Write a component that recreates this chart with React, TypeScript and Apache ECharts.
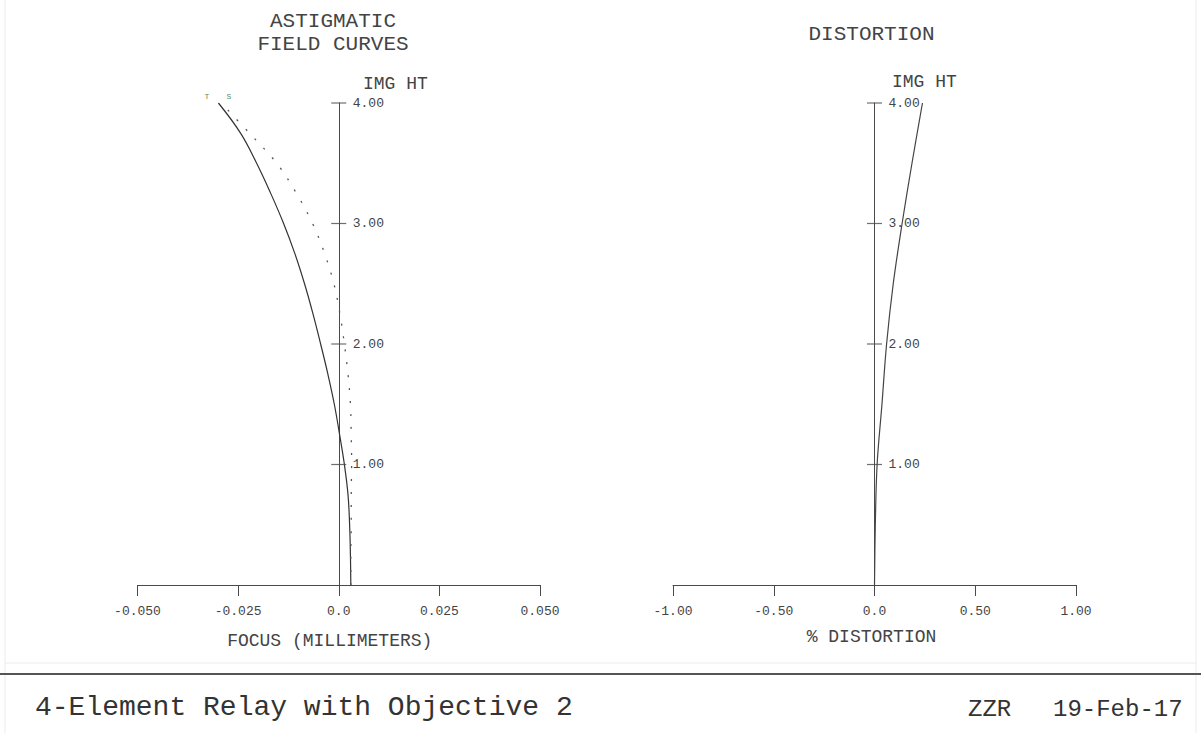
import React, { useEffect, useRef } from "react";
import * as echarts from "echarts";

// ---- data ----
const fieldHeights = [0, 0.25, 0.5, 0.75, 1, 1.25, 1.5, 1.75, 2, 2.25, 2.5, 2.75, 3, 3.25, 3.5, 3.75, 4];
const tangentialFocus = [0.003, 0.0029, 0.0027, 0.0023, 0.0014, 0.0002, -0.0011, -0.0027, -0.0045, -0.0064, -0.0085, -0.0109, -0.0137, -0.0169, -0.0204, -0.0244, -0.0299];
const sagittalFocus = [0.003, 0.003, 0.0031, 0.0031, 0.0032, 0.0031, 0.0029, 0.0023, 0.0014, 0.0003, -0.0012, -0.0035, -0.0065, -0.0105, -0.0154, -0.0222, -0.0292];
const distortionHeights = [0, 0.5, 1, 1.5, 2, 2.5, 3, 3.5, 4];
const distortionPct = [0, 0.004, 0.013, 0.037, 0.06, 0.093, 0.137, 0.186, 0.238];
const heightTicks = [1, 2, 3, 4];
const focusTickLabels = ["-0.050", "-0.025", "0.0", "0.025", "0.050"];
const distortionTickLabels = ["-1.00", "-0.50", "0.0", "0.50", "1.00"];
const heightTickLabels = ["", "1.00", "2.00", "3.00", "4.00"];

const FONT = "Liberation Mono";
const AX = "#4a4a4a";
const TXT = "#444";

const G_TOP = 103;
const G_H = 482;
const G1_LEFT = 137.5;
const G1_W = 402.5;
const G2_LEFT = 673;
const G2_W = 403;

export default function App() {
  const ref = useRef<HTMLDivElement>(null);
  useEffect(() => {
    if (!ref.current) return;
    const chart = echarts.init(ref.current, undefined, { renderer: "svg" });

    const xAxisBase = (labels: string[], min: number, max: number, interval: number, name: string, gap: number, idx: number, shift: number) => ({
      type: "value",
      gridIndex: idx,
      min,
      max,
      interval,
      axisLine: { onZero: false, lineStyle: { color: AX, width: 1 } },
      axisTick: { show: true, length: 11, lineStyle: { color: AX, width: 1 } },
      splitLine: { show: false },
      axisLabel: {
        formatter: (_v: number, i: number) => labels[i] ?? "",
        margin: 20,
        fontFamily: FONT,
        fontSize: 13,
        color: TXT,
      },
      name,
      nameLocation: "middle",
      nameGap: gap,
      nameTextStyle: { fontFamily: FONT, fontSize: 18, color: TXT, padding: [0, shift, 0, 0] },
    });

    // hidden value axes of the plotting grids
    const yHidden = (idx: number) => ({ type: "value", gridIndex: idx, min: 0, max: 4, interval: 1, show: false });

    // visible height axes, placed on the zero line of each plot (a 1px helper grid)
    const yVisible = (idx: number) => ({
      type: "value",
      gridIndex: idx,
      position: "right",
      min: 0,
      max: 4,
      interval: 1,
      axisLine: { show: true, onZero: false, lineStyle: { color: AX, width: 1 } },
      axisTick: { show: false },
      splitLine: { show: false },
      axisLabel: {
        margin: 14,
        formatter: (_v: number, i: number) => heightTickLabels[i] ?? "",
        fontFamily: FONT,
        fontSize: 13,
        color: TXT,
      },
    });

    const xHelper = (idx: number) => ({ type: "value", gridIndex: idx, min: 0, max: 1, show: false });

    const crossTicks = (idx: number) => ({
      type: "scatter",
      xAxisIndex: idx,
      yAxisIndex: idx,
      data: heightTicks.map((h) => [0, h]),
      symbol: "rect",
      symbolSize: [15, 1.2],
      itemStyle: { color: AX },
      silent: true,
      z: 3,
    });

    const option: any = {
      animation: false,
      backgroundColor: "#ffffff",
      grid: [
        { left: G1_LEFT, top: G_TOP, width: G1_W, height: G_H },
        { left: G2_LEFT, top: G_TOP, width: G2_W, height: G_H },
        { left: G1_LEFT + G1_W / 2 - 1, top: G_TOP, width: 1, height: G_H },
        { left: G2_LEFT + G2_W / 2 - 1, top: G_TOP, width: 1, height: G_H },
      ],
      xAxis: [
        xAxisBase(focusTickLabels, -0.05, 0.05, 0.025, "FOCUS (MILLIMETERS)", 47, 0, 18),
        xAxisBase(distortionTickLabels, -1, 1, 0.5, "% DISTORTION", 43, 1, 6),
        xHelper(2),
        xHelper(3),
      ],
      yAxis: [yHidden(0), yHidden(1), yVisible(2), yVisible(3)],
      series: [
        crossTicks(0),
        crossTicks(1),
        {
          name: "T",
          type: "line",
          xAxisIndex: 0,
          yAxisIndex: 0,
          data: fieldHeights.map((h, i) => [tangentialFocus[i], h]),
          symbol: "none",
          smooth: 0.4,
          lineStyle: { color: "#333", width: 1.2 },
        },
        {
          name: "S",
          type: "line",
          xAxisIndex: 0,
          yAxisIndex: 0,
          data: fieldHeights.map((h, i) => [sagittalFocus[i], h]),
          symbol: "none",
          smooth: 0.35,
          lineStyle: { color: "#555", width: 1.3, type: [2, 11] },
        },
        {
          name: "Distortion",
          type: "line",
          xAxisIndex: 1,
          yAxisIndex: 1,
          data: distortionHeights.map((h, i) => [distortionPct[i], h]),
          symbol: "none",
          smooth: 0.35,
          lineStyle: { color: "#444", width: 1.2 },
        },
      ],
      graphic: [
        { type: "line", shape: { x1: 5, y1: 0, x2: 5, y2: 733 }, style: { stroke: "#ececec", lineWidth: 1 } },
        { type: "line", shape: { x1: 1196, y1: 0, x2: 1196, y2: 733 }, style: { stroke: "#ececec", lineWidth: 1 } },
        { type: "line", shape: { x1: 5, y1: 663, x2: 1196, y2: 663 }, style: { stroke: "#ececec", lineWidth: 1 } },
        { type: "line", shape: { x1: 0, y1: 674, x2: 1201, y2: 674 }, style: { stroke: "#555", lineWidth: 2 } },
        { type: "text", x: 333, y: 21, style: { text: "ASTIGMATIC", font: `21px "${FONT}"`, fill: TXT, align: "center", verticalAlign: "middle" } },
        { type: "text", x: 333, y: 44, style: { text: "FIELD CURVES", font: `21px "${FONT}"`, fill: TXT, align: "center", verticalAlign: "middle" } },
        { type: "text", x: 871.5, y: 34.5, style: { text: "DISTORTION", font: `21px "${FONT}"`, fill: TXT, align: "center", verticalAlign: "middle" } },
        { type: "text", x: 363, y: 84, style: { text: "IMG HT", font: `18px "${FONT}"`, fill: TXT, align: "left", verticalAlign: "middle" } },
        { type: "text", x: 892, y: 82, style: { text: "IMG HT", font: `18px "${FONT}"`, fill: TXT, align: "left", verticalAlign: "middle" } },
        { type: "text", x: 207, y: 96, style: { text: "T", font: `8px "${FONT}"`, fill: "#5f8f5f", align: "center", verticalAlign: "middle" } },
        { type: "text", x: 229, y: 96, style: { text: "S", font: `8px "${FONT}"`, fill: "#5f8f5f", align: "center", verticalAlign: "middle" } },
        { type: "text", x: 35, y: 707, style: { text: "4-Element Relay with Objective 2", font: `28px "${FONT}"`, fill: "#333", align: "left", verticalAlign: "middle" } },
        { type: "text", x: 968, y: 709, style: { text: "ZZR", font: `24px "${FONT}"`, fill: "#333", align: "left", verticalAlign: "middle" } },
        { type: "text", x: 1053, y: 709, style: { text: "19-Feb-17", font: `24px "${FONT}"`, fill: "#333", align: "left", verticalAlign: "middle" } },
      ],
    };
    chart.setOption(option);
    return () => chart.dispose();
  }, []);

  return (
    <div
      ref={ref}
      style={{ position: "fixed", left: 0, top: 0, width: 1201, height: 733, background: "#fff" }}
    />
  );
}
